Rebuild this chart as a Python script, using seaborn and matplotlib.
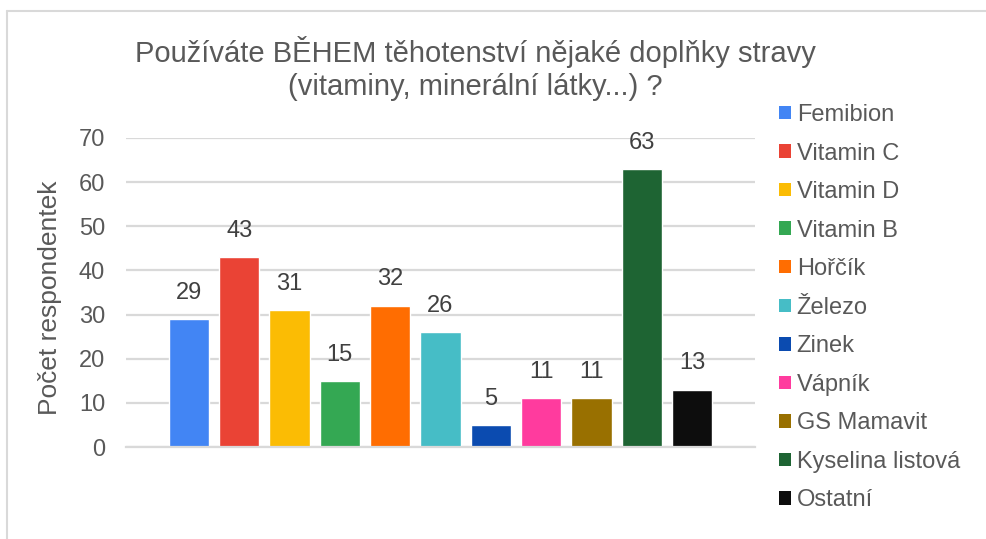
import matplotlib
matplotlib.use("Agg")
import matplotlib.pyplot as plt
import seaborn as sns
from matplotlib.patches import Patch
from matplotlib.lines import Line2D

# data
categories = ["Femibion", "Vitamin C", "Vitamin D", "Vitamin B", "Hořčík", "Železo",
              "Zinek", "Vápník", "GS Mamavit", "Kyselina listová", "Ostatní"]
values = [29, 43, 31, 15, 32, 26, 5, 11, 11, 63, 13]
colors = ["#4285F4", "#EA4335", "#FBBC04", "#34A853", "#FF6D01", "#46BDC6",
          "#0B4BB0", "#FF3B9E", "#997000", "#1E6433", "#0D0D0D"]
yticks = [0, 10, 20, 30, 40, 50, 60, 70]

sns.set_theme(style="white")
plt.rcParams["font.family"] = ["Liberation Sans", "DejaVu Sans"]

W, H = 987, 539
fig = plt.figure(figsize=(W / 100, H / 100), dpi=100)
ax = fig.add_axes([126 / W, 1 - 447 / H, (755 - 126) / W, (447 - 138) / H])

sns.barplot(x=categories, y=values, hue=categories, palette=colors,
            width=0.8, saturation=1, legend=False, ax=ax)

ax.set_xlim(-1.25, 11.25)
ax.set_ylim(0, 70)
ax.set_yticks(yticks)
ax.set_xticks([])
ax.set_xlabel("")
ax.set_ylabel("Počet respondentek", fontsize=19, color="#595959")
ax.yaxis.set_label_coords(-0.101, 0.482)
ax.tick_params(axis="y", length=0, pad=15, labelsize=17, labelcolor="#595959")
ax.grid(axis="y", color="#D9D9D9", linewidth=1.6)
ax.set_axisbelow(True)
for s in ["top", "right", "left"]:
    ax.spines[s].set_visible(False)
ax.spines["bottom"].set_color("#D9D9D9")
ax.spines["bottom"].set_linewidth(1.6)

for c in ax.containers:
    ax.bar_label(c, padding=11, fontsize=17, color="#404040")

# title
fig.text(475 / W, 1 - 36 / H,
         "Používáte BĚHEM těhotenství nějaké doplňky stravy\n(vitaminy, minerální látky...) ?",
         ha="center", va="top", fontsize=21, color="#595959", linespacing=1.22)

# legend
handles = [Patch(facecolor=col, edgecolor="none") for col in colors]
fig.legend(handles, categories, loc="upper left",
           bbox_to_anchor=(779 / W, 1 - 104 / H), bbox_transform=fig.transFigure,
           frameon=False, fontsize=17, labelcolor="#595959",
           handlelength=0.5, handleheight=0.5, handletextpad=0.25,
           labelspacing=0.70, borderpad=0, borderaxespad=0)

# chart border
fig.add_artist(Line2D([7 / W, 7 / W], [0, 1 - 11 / H], color="#D9D9D9", lw=1.5,
                      transform=fig.transFigure))
fig.add_artist(Line2D([7 / W, 1], [1 - 11 / H, 1 - 11 / H], color="#D9D9D9", lw=1.5,
                      transform=fig.transFigure))

fig.savefig("out.png", dpi=100)
